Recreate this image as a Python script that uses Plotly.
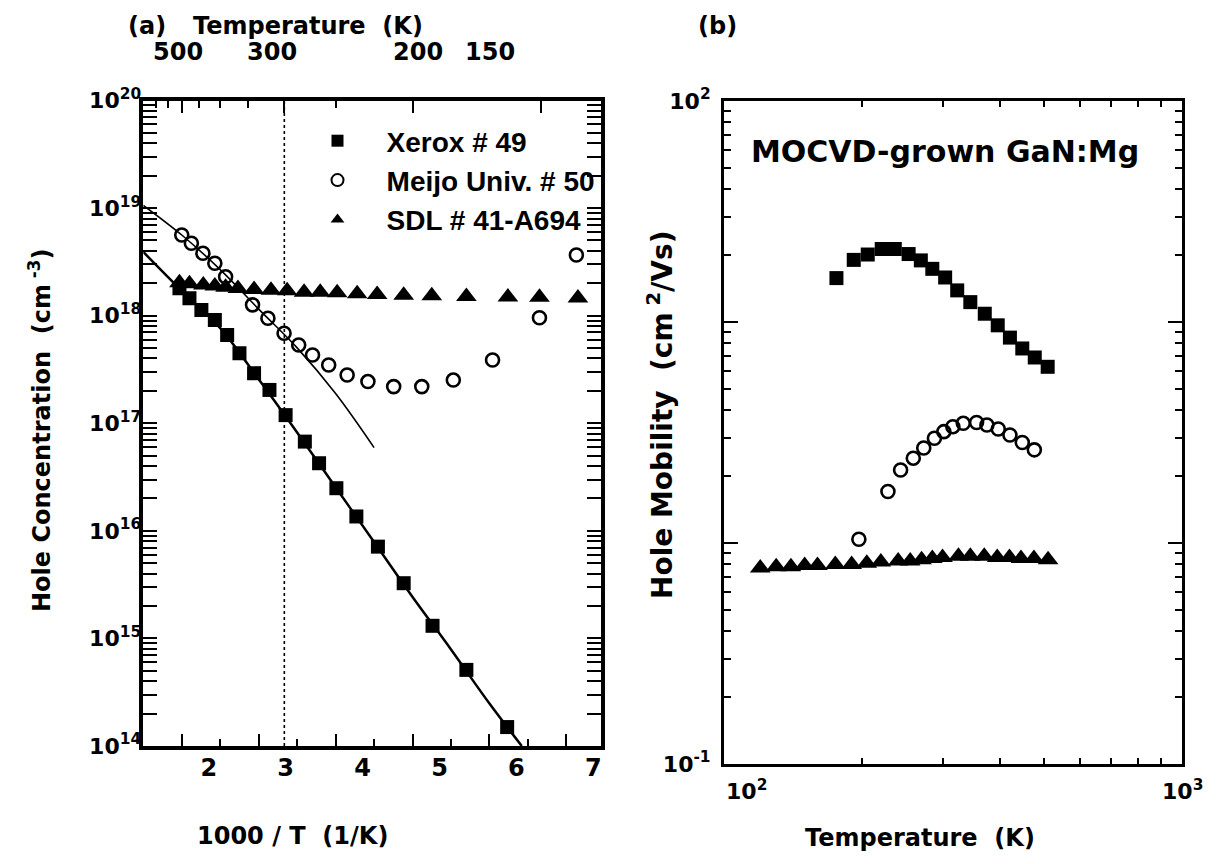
import plotly.graph_objects as go

# ---------------- Panel (a) data: x = 1000/T (1/K), y = hole concentration (cm^-3)
xerox_x = [1.97, 2.10, 2.255, 2.43, 2.59, 2.75, 2.94, 3.14, 3.35, 3.60, 3.785, 4.01, 4.27, 4.55, 4.885, 5.26, 5.70, 6.23]
xerox_p = [1.80e18, 1.45e18, 1.13e18, 9.1e17, 6.6e17, 4.48e17, 2.92e17, 2.04e17, 1.19e17, 6.75e16, 4.25e16,
           2.49e16, 1.36e16, 7.13e15, 3.26e15, 1.31e15, 5.1e14, 1.50e14]
xerox_fit_x = [1.5, 2.0, 2.5, 3.0, 3.5, 4.0, 4.5, 5.0, 5.5, 6.0, 6.42]
xerox_fit_p = [3.91e18, 1.70e18, 7.67e17, 2.56e17, 8.2e16, 2.54e16, 7.87e15, 2.43e15, 7.9e14, 2.48e14, 1.0e14]

meijo_x = [2.0, 2.125, 2.275, 2.43, 2.57, 2.92, 3.12, 3.33, 3.52, 3.70, 3.91, 4.15, 4.42, 4.755, 5.12, 5.53, 6.04, 6.65, 7.13]
meijo_p = [5.62e18, 4.71e18, 3.80e18, 3.07e18, 2.30e18, 1.26e18, 9.46e17, 6.86e17, 5.34e17, 4.31e17, 3.48e17,
           2.81e17, 2.44e17, 2.19e17, 2.19e17, 2.52e17, 3.87e17, 9.57e17, 3.66e18]
meijo_fit_x = [1.5, 2.0, 2.5, 3.0, 3.5, 4.0, 4.5]
meijo_fit_p = [1.06e19, 5.62e18, 2.68e18, 1.15e18, 5.02e17, 1.89e17, 5.94e16]

sdl_x = [1.97, 2.10, 2.28, 2.43, 2.57, 2.73, 2.94, 3.16, 3.37, 3.59, 3.80, 4.02, 4.28, 4.54, 4.885, 5.25, 5.70, 6.24, 6.65, 7.15]
sdl_p = [2.02e18, 1.98e18, 1.93e18, 1.89e18, 1.84e18, 1.79e18, 1.75e18, 1.72e18, 1.70e18, 1.65e18, 1.65e18,
         1.63e18, 1.60e18, 1.57e18, 1.55e18, 1.53e18, 1.51e18, 1.49e18, 1.48e18, 1.46e18]

legend_names = ["Xerox # 49", "Meijo Univ. # 50", "SDL # 41-A694"]

# bottom axis ticks (1000/T)
bottom_ticks = [2, 3, 4, 5, 6, 7]
bottom_minor = [2.5, 3.5, 4.5, 5.5, 6.5]
# top axis temperatures (K); labels are typeset a little off their ticks in the original
top_T_major = [500, 300, 200, 150]
top_T_minor = [600, 550, 450, 400, 350, 250]
top_label_x = [178, 272, 418, 490]  # window px of the printed labels
T_ref = 300  # dashed reference line

# ---------------- Panel (b) data: T (K), hole mobility (cm^2/Vs)
mob_xerox_T = [176, 192, 206, 221, 236, 253, 269, 285, 304, 323, 345, 371, 396, 421, 448, 477, 509]
mob_xerox_mu = [15.8, 19.1, 20.2, 21.4, 21.4, 20.3, 19.0, 17.4, 15.9, 13.9, 12.3, 10.9, 9.66, 8.5, 7.59, 6.91, 6.27]

mob_meijo_T = [197, 228, 243, 259, 273, 288, 302, 316, 333, 356, 375, 397, 421, 448, 476]
mob_meijo_mu = [1.04, 1.71, 2.14, 2.42, 2.69, 2.98, 3.19, 3.36, 3.48, 3.51, 3.42, 3.28, 3.08, 2.85, 2.64]

mob_sdl_T = [120, 130, 140, 150, 160, 175, 190, 205, 220, 240, 255, 270, 285, 300, 325, 345, 370, 395, 420, 445, 475, 510]
mob_sdl_mu = [0.77, 0.78, 0.78, 0.79, 0.79, 0.80, 0.80, 0.81, 0.82, 0.83, 0.83, 0.84, 0.85, 0.86, 0.87, 0.87,
              0.87, 0.86, 0.86, 0.85, 0.85, 0.84]
mob_T_ticks = [100, 1000]

FONT = "DejaVu Sans, Arial, sans-serif"
LEG_FONT = "Liberation Sans, Arial, sans-serif"
BLACK = "black"

# the page body keeps its default 8 px margin: size the figure so it fills the 1218x864 window exactly
PAGE_MARGIN = 8
W, H = 1218 - 2 * PAGE_MARGIN, 864 - 2 * PAGE_MARGIN


def px(x):
    """window pixel x -> paper fraction"""
    return (x - PAGE_MARGIN) / W


def py(y):
    """window pixel y -> paper fraction"""
    return 1 - (y - PAGE_MARGIN) / H


SQ = dict(symbol="square", size=14, color=BLACK)
CI = dict(symbol="circle-open", size=13, color=BLACK, line=dict(width=2.6))
TR = dict(symbol="triangle-up", size=18, color=BLACK)
NB = "\u00a0\u00a0"

fig = go.Figure()

# ---- panel (a)
fig.add_trace(go.Scatter(x=xerox_fit_x, y=xerox_fit_p, mode="lines",
                         line=dict(color=BLACK, width=2.5, shape="spline"),
                         showlegend=False, hoverinfo="skip", xaxis="x", yaxis="y"))
fig.add_trace(go.Scatter(x=meijo_fit_x, y=meijo_fit_p, mode="lines",
                         line=dict(color=BLACK, width=1.6, shape="spline"),
                         showlegend=False, hoverinfo="skip", xaxis="x", yaxis="y"))
fig.add_trace(go.Scatter(x=xerox_x, y=xerox_p, mode="markers", name=NB + legend_names[0], legendgroup="a",
                         marker=SQ, xaxis="x", yaxis="y"))
fig.add_trace(go.Scatter(x=meijo_x, y=meijo_p, mode="markers", name=NB + legend_names[1], legendgroup="b",
                         marker=CI, xaxis="x", yaxis="y"))
fig.add_trace(go.Scatter(x=sdl_x, y=sdl_p, mode="markers", name=NB + legend_names[2], legendgroup="c",
                         marker=TR, xaxis="x", yaxis="y"))

# ---- panel (b)
fig.add_trace(go.Scatter(x=mob_xerox_T, y=mob_xerox_mu, mode="markers", showlegend=False,
                         marker=SQ, xaxis="x2", yaxis="y2"))
fig.add_trace(go.Scatter(x=mob_meijo_T, y=mob_meijo_mu, mode="markers", showlegend=False,
                         marker=CI, xaxis="x2", yaxis="y2"))
fig.add_trace(go.Scatter(x=mob_sdl_T, y=mob_sdl_mu, mode="markers", showlegend=False,
                         marker=TR, xaxis="x2", yaxis="y2"))

# invisible trace to activate the top axis of panel (a)
fig.add_trace(go.Scatter(x=[1000 / t for t in top_T_major], y=[None] * len(top_T_major), mode="markers",
                         showlegend=False, hoverinfo="skip", xaxis="x3", yaxis="y"))

# reference line at 300 K
fig.add_shape(type="line", xref="x", yref="y domain", x0=1000 / T_ref, x1=1000 / T_ref, y0=0, y1=1,
              line=dict(color=BLACK, width=1.6, dash="dot"))

tf_big = dict(family=FONT, size=24, color=BLACK, weight="bold")
tf_sup = dict(family=FONT, size=22, color=BLACK, weight="bold")
L_dom = [px(143.3), px(601)]
R_dom = [px(724), px(1182)]
yL_dom = [py(746), py(100.5)]
yR_dom = [py(764), py(101)]
x_range = [1.5, 7.45]

dec_a = list(range(14, 21))
minor_a = [m * 10.0 ** k for k in range(14, 20) for m in range(2, 10)]
dec_b = [-1, 0, 1, 2]
minor_b = [m * 10.0 ** k for k in range(-1, 2) for m in range(2, 10)]

common = dict(showgrid=False, zeroline=False, automargin=False, linecolor=BLACK, tickcolor=BLACK)

fig.update_layout(
    width=W, height=H,
    margin=dict(l=0, r=0, t=0, b=0, pad=0, autoexpand=False),
    paper_bgcolor="white", plot_bgcolor="white",
    font=dict(family=FONT, color=BLACK),
    xaxis=dict(domain=L_dom, anchor="y", range=x_range, tickmode="array", tickvals=bottom_ticks,
               ticktext=[str(t) for t in bottom_ticks], ticks="inside", ticklen=12, tickwidth=2,
               minor=dict(tickmode="array", tickvals=bottom_minor, ticks="inside", ticklen=7, tickwidth=2),
               showline=True, linewidth=3.5, mirror=True, tickfont=tf_big, ticklabelstandoff=-3,
               ticklabelshift=27, **common),
    xaxis3=dict(overlaying="x", side="top", anchor="y", range=x_range, tickmode="array",
                tickvals=[1000 / t for t in top_T_major], ticktext=["" for _ in top_T_major],
                ticks="inside", ticklen=12, tickwidth=2,
                minor=dict(tickmode="array", tickvals=[1000 / t for t in top_T_minor], ticks="inside",
                           ticklen=7, tickwidth=2),
                showline=False, **common),
    yaxis=dict(domain=yL_dom, anchor="x", type="log", range=[14, 20], tickmode="array",
               tickvals=[10.0 ** k for k in dec_a], ticktext=["10<sup>%d</sup>" % k for k in dec_a],
               ticks="inside", ticklen=14, tickwidth=2,
               minor=dict(tickmode="array", tickvals=minor_a, ticks="inside", ticklen=7, tickwidth=1.5),
               showline=True, linewidth=3.5, mirror="allticks", tickfont=tf_sup, ticklabelstandoff=-6, **common),
    xaxis2=dict(domain=R_dom, anchor="y2", type="log", range=[2, 3], tickmode="array", tickvals=mob_T_ticks,
                ticktext=["" for _ in mob_T_ticks], ticks="inside", ticklen=12, tickwidth=2,
                minor=dict(tickmode="array", tickvals=[200, 300, 400, 500, 600, 700, 800, 900], ticks="inside",
                           ticklen=6, tickwidth=2),
                showline=True, linewidth=3, mirror="allticks", **common),
    yaxis2=dict(domain=yR_dom, anchor="x2", type="log", range=[-1, 2], tickmode="array",
                tickvals=[10.0 ** k for k in dec_b], ticktext=["10<sup>-1</sup>", "", "", "10<sup>2</sup>"],
                ticks="inside", ticklen=14, tickwidth=2,
                minor=dict(tickmode="array", tickvals=minor_b, ticks="inside", ticklen=7, tickwidth=2),
                showline=True, linewidth=3, mirror="allticks", tickfont=tf_sup, ticklabelstandoff=6, **common),
    legend=dict(x=px(304), y=py(116), xanchor="left", yanchor="top", bgcolor="rgba(0,0,0,0)",
                font=dict(family=LEG_FONT, size=28, weight="bold"), tracegroupgap=0, itemsizing="constant",
                itemwidth=57),
    showlegend=True,
)

title_font = dict(family=FONT, size=24, weight="bold", color=BLACK)


def label(text, x, y, angle=0, font=title_font):
    fig.add_annotation(text=text, x=px(x), y=py(y), xref="paper", yref="paper", xanchor="center",
                       yanchor="middle", showarrow=False, textangle=angle, font=font)


# top-axis temperature labels of panel (a)
for t, lx in zip(top_T_major, top_label_x):
    label(str(t), lx, 52, 0, tf_big)
# bottom-axis labels of panel (b)
for t, lx in zip(mob_T_ticks, [746, 1182]):
    label("10<sup>%d</sup>" % len(str(t)[1:]), lx, 790, 0, tf_sup)

label("(a)", 147, 26)
label("Temperature  (K)", 308, 26)
label("(b)", 717, 26)
label("1000 / T  (1/K)", 292, 836)
label("Temperature  (K)", 920, 838)
label("Hole Concentration  (cm<sup> -3</sup>)", 40, 431, -90,
      dict(family=FONT, size=24, weight="bold", color=BLACK))
label("Hole Mobility  (cm<sup> 2</sup>/Vs)", 660, 415, -90,
      dict(family=FONT, size=28, weight="bold", color=BLACK))
label("MOCVD-grown GaN:Mg", 945, 152, 0, dict(family=FONT, size=30, weight="bold", color=BLACK))

fig.write_html("out.html")
